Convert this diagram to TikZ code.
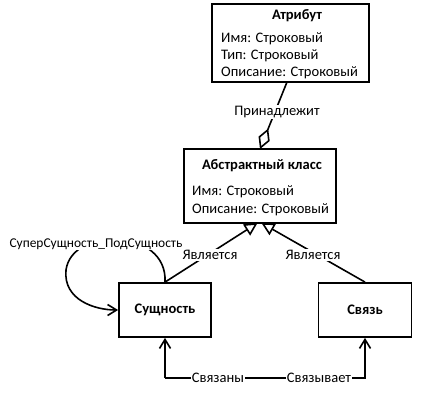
\documentclass[tikz,border=0pt]{standalone}
\usepackage{fontspec}
\setmainfont{Carlito}
\usetikzlibrary{arrows.meta}
\begin{document}
\begin{tikzpicture}[x=1bp,y=-1bp,
  box/.style={draw=black,line width=1.8bp,fill=white,inner sep=0pt},
  ttl/.style={font=\fontsize{14.6}{16}\selectfont\bfseries,inner sep=0pt},
  attrtext/.style={font=\fontsize{14.6}{17.5}\selectfont,inner sep=0pt,anchor=west},
  lbl/.style={font=\fontsize{14.6}{16}\selectfont,fill=white,inner sep=1bp},
  conn/.style={draw=black,line width=1.6bp},
  openv/.style={-{Straight Barb[length=9bp,width=11bp,line width=1.6bp]}},
  gen/.style={-{Triangle[open,length=13bp,width=13bp,line width=1.6bp]}},
  agg/.style={-{Diamond[open,length=22bp,width=12bp,line width=1.6bp]}}]
\useasboundingbox (0,0) rectangle (441,394);
\fill[white] (0,0) rectangle (441,394);
% boxes
\node[box,minimum width=157bp,minimum height=78bp] (attr) at (290.5,43) {};
\node[box,minimum width=152bp,minimum height=74bp] (abs) at (260,186) {};
\node[box,minimum width=92bp,minimum height=54bp] (ent) at (165,310) {};
\node[box,minimum width=93bp,minimum height=54bp] (rel) at (365,310) {};
% texts
\node[ttl] (attrT) at (297,16) {Атрибут};
\node[attrtext] (attr1) at (221,39) {Имя: Строковый};
\node[attrtext] (attr2) at (221,56) {Тип: Строковый};
\node[attrtext] (attr3) at (221,73) {Описание: Строковый};
\node[ttl] (absT) at (262,166) {Абстрактный класс};
\node[attrtext] (abs1) at (192,192) {Имя: Строковый};
\node[attrtext] (abs2) at (192,210) {Описание: Строковый};
\node[ttl] (entT) at (ent.center) {Сущность};
\node[ttl] (relT) at (rel.center) {Связь};
% aggregation
\coordinate (aggS) at (287,82);
\coordinate (aggE) at (260,149);
\draw[conn,agg] (aggS) -- (aggE);
\node[lbl] (l1) at (277,112) {Принадлежит};
% generalizations
\coordinate (absL) at (257.5,223);
\coordinate (absR) at (261.5,223);
\draw[conn,gen] (ent.north) -- (absL);
\draw[conn,gen] (rel.north) -- (absR);
\node[lbl] (l2) at (210,255) {Является};
\node[lbl] (l3) at (313,255) {Является};
% self loop
\draw[conn,openv] (ent.north) .. controls (168,228) and (72,226) .. (66,270)
  .. controls (63,300) and (95,310) .. (ent.west);
\node[lbl,font=\fontsize{13.5}{16}\selectfont] (l4) at (96,244) {СуперСущность\_ПодСущность};
% bottom link
\coordinate (bot) at (165,378);
\draw[conn,openv] (bot) -- (ent.south);
\draw[conn,openv] (bot) -| (rel.south);
\node[lbl] (l5) at (218,378) {Связаны};
\node[lbl] (l6) at (319,378) {Связывает};
\end{tikzpicture}
\end{document}
